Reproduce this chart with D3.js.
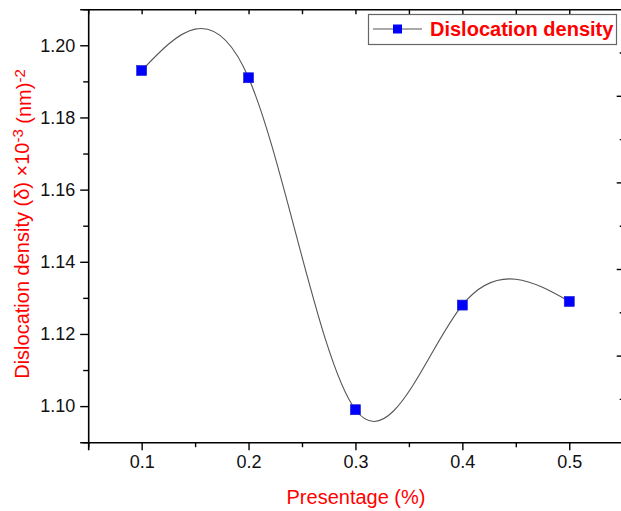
<!DOCTYPE html>
<html><head><meta charset="utf-8">
<script src="https://cdn.jsdelivr.net/npm/d3@7"></script>
<style>body{margin:0;background:#fff;}svg{display:block;font-family:Arial,"Liberation Sans",sans-serif;}</style>
</head><body>
<svg id="c" width="621" height="511"></svg>
<script>
const percentage = [0.1, 0.2, 0.3, 0.4, 0.5];
const dislocation = [1.193, 1.191, 1.099, 1.128, 1.129];
const xTicks = [0.1, 0.2, 0.3, 0.4, 0.5];
const yTicks = [1.10, 1.12, 1.14, 1.16, 1.18, 1.20];
const xDomain = [0.05, 0.55];
const yDomain = [1.09, 1.21];
const rightDomain = [0, 5];
const seriesName = "Dislocation density";
const xTitle = "Presentage (%)";

const svg = d3.select("#c");
const L = 88.2, R = 622.7, T = 9.2, B = 442.2;
const x = d3.scaleLinear().domain(xDomain).range([L, R]);
const y = d3.scaleLinear().domain(yDomain).range([B, T]);
const yr = d3.scaleLinear().domain(rightDomain).range([B, T]);

const red = "#ff0000";
const fs = "18px";

const xMinor = d3.range(0.05, 0.5501, 0.05).map(v => +v.toFixed(2));
const yMinor = d3.range(1.09, 1.2101, 0.01).map(v => +v.toFixed(2));

// bottom axis
svg.append("g").attr("transform", `translate(0,${B})`)
  .call(d3.axisBottom(x).tickValues(xTicks).tickFormat(d3.format(".1f")).tickSize(8).tickPadding(5));
svg.append("g").attr("transform", `translate(0,${B})`)
  .call(d3.axisBottom(x).tickValues(xMinor.filter(v => !xTicks.some(t => Math.abs(t - v) < 1e-6))).tickFormat("").tickSize(5).tickSizeOuter(0))
  .select(".domain").remove();

// left axis
svg.append("g").attr("transform", `translate(${L},0)`)
  .call(d3.axisLeft(y).tickValues(yTicks).tickFormat(d3.format(".2f")).tickSize(8).tickPadding(5));
svg.append("g").attr("transform", `translate(${L},0)`)
  .call(d3.axisLeft(y).tickValues(yMinor.filter(v => !yTicks.some(t => Math.abs(t - v) < 1e-6))).tickFormat("").tickSize(5).tickSizeOuter(0))
  .select(".domain").remove();

// top axis (ticks pointing inward)
svg.append("g").attr("transform", `translate(0,${T})`)
  .call(d3.axisBottom(x).tickValues(xMinor).tickFormat("").tickSize(5).tickSizeOuter(0));

// right axis (ticks pointing inward)
svg.append("g").attr("transform", `translate(${R},0)`)
  .call(d3.axisLeft(yr).tickValues([1, 2, 3, 4]).tickFormat("").tickSize(6).tickSizeOuter(0));
svg.append("g").attr("transform", `translate(${R},0)`)
  .call(d3.axisLeft(yr).tickValues([0.5, 1.5, 2.5, 3.5, 4.5]).tickFormat("").tickSize(3).tickSizeOuter(0))
  .select(".domain").remove();

svg.selectAll(".domain").attr("stroke", "#000").attr("stroke-width", 1.6);
svg.selectAll(".tick line").attr("stroke", "#000").attr("stroke-width", 1.4);
svg.selectAll(".tick text").attr("fill", "#111").style("font-size", fs).style("font-family", "Arial,'Liberation Sans',sans-serif");

// spline
const line = d3.line().x((d, i) => x(percentage[i])).y(d => y(d)).curve(d3.curveNatural);
svg.append("path").datum(dislocation).attr("d", line)
  .attr("fill", "none").attr("stroke", "#555").attr("stroke-width", 1.1);

// markers
const ms = 10;
svg.selectAll("rect.pt").data(dislocation).join("rect").attr("class", "pt")
  .attr("x", (d, i) => x(percentage[i]) - ms / 2).attr("y", d => y(d) - ms / 2)
  .attr("width", ms).attr("height", ms)
  .attr("fill", "#0000ff").attr("stroke", "#1a1acc").attr("stroke-width", 0.6);

// legend
const lg = svg.append("g");
lg.append("rect").attr("x", 368.5).attr("y", 14.5).attr("width", 248).attr("height", 30)
  .attr("fill", "#fff").attr("stroke", "#666").attr("stroke-width", 1.2);
lg.append("line").attr("x1", 373).attr("x2", 422).attr("y1", 29).attr("y2", 29)
  .attr("stroke", "#555").attr("stroke-width", 1.1);
lg.append("rect").attr("x", 393).attr("y", 24.5).attr("width", 9).attr("height", 9)
  .attr("fill", "#0000ff");
lg.append("text").attr("x", 430).attr("y", 36).attr("fill", red)
  .style("font-size", "20px").style("font-weight", "bold").text(seriesName);

// x title
svg.append("text").attr("x", 356).attr("y", 504).attr("text-anchor", "middle")
  .attr("fill", red).style("font-size", "20px").text(xTitle);

// y title
const yt = svg.append("text").attr("transform", "translate(29,224) rotate(-90)")
  .attr("text-anchor", "middle").attr("fill", red).style("font-size", "20px");
yt.append("tspan").text("Dislocation density (δ) ×10");
yt.append("tspan").attr("dy", "-0.4em").style("font-size", "15px").text("-3");
yt.append("tspan").attr("dy", "0.4em").text(" (nm)");
yt.append("tspan").attr("dy", "-0.4em").style("font-size", "15px").text("-2");
</script>
</body></html>
